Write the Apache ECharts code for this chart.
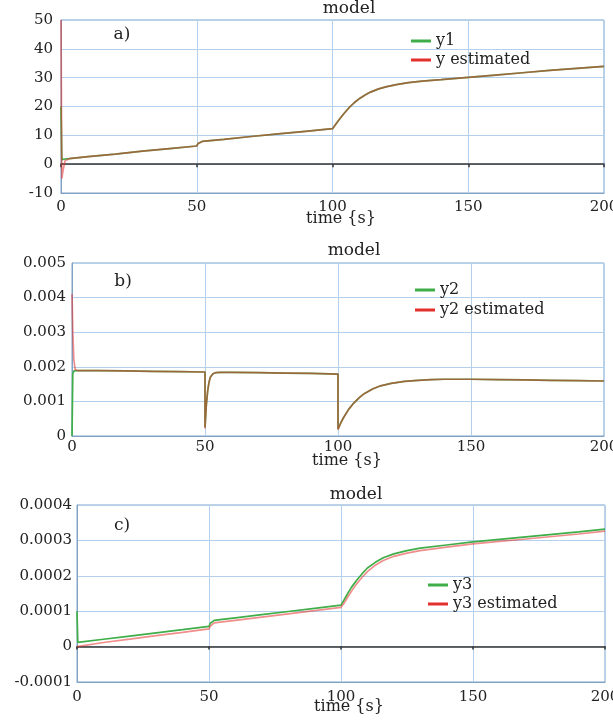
<!DOCTYPE html>
<html>
<head>
<meta charset="utf-8">
<script src="https://cdn.jsdelivr.net/npm/echarts@6/dist/echarts.min.js"></script>
<style>html,body{margin:0;padding:0;background:#fff}#c{width:613px;height:725px}</style>
</head>
<body>
<div id="c"></div>
<script>
// ---- Panel a) ----
var tA = [0, 0.3, 0.8, 1.5, 3, 10, 20, 30, 40, 50, 50.5, 51, 52, 54, 60, 70, 80, 90, 100, 101, 102, 103, 104, 106, 108, 110, 112, 114, 117, 120, 124, 128, 133, 140, 150, 160, 170, 180, 190, 200];
var y1 = [20, 1.6, 1.6, 1.8, 1.9, 2.6, 3.5, 4.5, 5.4, 6.3, 7.2, 7.6, 7.9, 8.1, 8.6, 9.6, 10.5, 11.4, 12.3, 13.6, 14.9, 16.1, 17.3, 19.5, 21.3, 22.8, 24.0, 25.0, 26.1, 26.9, 27.7, 28.3, 28.8, 29.3, 30.1, 30.9, 31.7, 32.5, 33.2, 33.9];
var y1Est = [50, -5, -2, 1.2, 1.9, 2.6, 3.5, 4.5, 5.4, 6.3, 7.2, 7.6, 7.9, 8.1, 8.6, 9.6, 10.5, 11.4, 12.3, 13.6, 14.9, 16.1, 17.3, 19.5, 21.3, 22.8, 24.0, 25.0, 26.1, 26.9, 27.7, 28.3, 28.8, 29.3, 30.1, 30.9, 31.7, 32.5, 33.2, 33.9];
// ---- Panel b) ----
var tB = [0, 0.3, 0.7, 1.2, 2, 10, 20, 30, 40, 50, 50, 50.5, 51, 51.5, 52, 53, 54, 56, 60, 70, 80, 90, 100, 100, 101, 102, 104, 106, 108, 110, 113, 116, 120, 125, 130, 135, 140, 150, 160, 170, 180, 190, 200];
var y2 = [0, 0.00180, 0.00188, 0.00189, 0.00189, 0.00189, 0.00188, 0.00187, 0.00186, 0.00185, 0.00025, 0.00090, 0.00130, 0.00155, 0.00170, 0.00180, 0.00183, 0.00184, 0.00184, 0.00183, 0.00182, 0.00181, 0.00179, 0.00020, 0.00037, 0.00052, 0.00077, 0.00096, 0.00111, 0.00123, 0.00136, 0.00145, 0.00152, 0.00158, 0.00161, 0.00163, 0.00164, 0.00164, 0.00163, 0.00162, 0.00161, 0.00160, 0.00159];
var y2Est = [0.00410, 0.00300, 0.00220, 0.00192, 0.00189, 0.00189, 0.00188, 0.00187, 0.00186, 0.00185, 0.00022, 0.00090, 0.00130, 0.00155, 0.00170, 0.00180, 0.00183, 0.00184, 0.00184, 0.00183, 0.00182, 0.00181, 0.00179, 0.00018, 0.00037, 0.00052, 0.00077, 0.00096, 0.00111, 0.00123, 0.00136, 0.00145, 0.00152, 0.00158, 0.00161, 0.00163, 0.00164, 0.00164, 0.00163, 0.00162, 0.00161, 0.00160, 0.00159];
// ---- Panel c) ----
var tC = [0, 0.3, 10, 20, 30, 40, 50, 50.5, 51, 52, 55, 60, 70, 80, 90, 100, 101, 102, 103, 104, 106, 108, 110, 113, 116, 120, 125, 130, 140, 150, 160, 170, 180, 190, 200];
var y3 = [0.000100, 0.000012, 0.0000207, 0.0000297, 0.0000387, 0.0000477, 0.000057, 0.000066, 0.000070, 0.000074, 0.0000767, 0.0000812, 0.0000902, 0.0000992, 0.0001082, 0.000117, 0.000130, 0.000143, 0.000156, 0.000168, 0.000188, 0.000206, 0.000222, 0.000238, 0.000251, 0.000262, 0.000271, 0.000278, 0.000287, 0.000296, 0.000303, 0.000310, 0.000317, 0.000324, 0.000332];
var y3Est = [0.000000, 0.000002, 0.0000116, 0.000021, 0.000031, 0.000040, 0.000050, 0.000058, 0.000062, 0.000067, 0.0000697, 0.0000743, 0.0000835, 0.0000927, 0.0001018, 0.000111, 0.000121, 0.000133, 0.000145, 0.000157, 0.000178, 0.000196, 0.000212, 0.000230, 0.000243, 0.000255, 0.000264, 0.000271, 0.000281, 0.000290, 0.000297, 0.000304, 0.000311, 0.000318, 0.000326];

var yTicks = [
  {min: -10, max: 50, interval: 10},
  {min: 0, max: 0.005, interval: 0.001},
  {min: -0.0001, max: 0.0004, interval: 0.0001}
];
var xTicks = {min: 0, max: 200, interval: 50};

function pairs(t, v) { return t.map(function (x, i) { return [x, v[i]]; }); }

var FONT = '"DejaVu Serif", serif';
var TXT = '#222';
var FRAME = '#7fa3c4';
var GRIDC = '#b3d1ec';
var GREEN = '#3fae49';
var RED = '#e2312d';
var REDA = 'rgba(226,49,45,0.55)';

var grids = [
  {left: 61, top: 20, width: 543, height: 173},
  {left: 72, top: 263, width: 532, height: 173},
  {left: 77, top: 505, width: 528, height: 177}
];
var labelMargins = [7, 4, 8];
var yMargins = [8, 6, 5];

var option = {
  animation: false,
  backgroundColor: '#fff',
  grid: grids.map(function (g) {
    return Object.assign({show: true, borderColor: FRAME, borderWidth: 1, backgroundColor: 'transparent', containLabel: false, outerBoundsMode: 'none'}, g);
  }),
  xAxis: [],
  yAxis: [],
  series: [],
  legend: [],
  graphic: []
};

for (var i = 0; i < 3; i++) {
  option.xAxis.push({
    type: 'value', gridIndex: i, min: xTicks.min, max: xTicks.max, interval: xTicks.interval,
    axisLine: {show: true, onZero: false, lineStyle: {color: FRAME, width: 1}},
    axisTick: {show: false},
    axisLabel: {color: TXT, fontFamily: FONT, fontSize: 15, margin: labelMargins[i]},
    splitLine: {show: true, lineStyle: {color: GRIDC, width: 1}}
  });
  option.yAxis.push({
    type: 'value', gridIndex: i, min: yTicks[i].min, max: yTicks[i].max, interval: yTicks[i].interval,
    axisLine: {show: true, onZero: false, lineStyle: {color: FRAME, width: 1}},
    axisTick: {show: false},
    axisLabel: {color: TXT, fontFamily: FONT, fontSize: 15, margin: yMargins[i]},
    splitLine: {show: true, lineStyle: {color: GRIDC, width: 1}}
  });
}
// zero lines (black, with ticks) for panels a and c
[0, 2].forEach(function (gi) {
  option.xAxis.push({
    type: 'value', gridIndex: gi, min: xTicks.min, max: xTicks.max, interval: xTicks.interval,
    position: 'bottom',
    axisLine: {show: true, onZero: true, lineStyle: {color: '#333', width: 1.5}},
    axisTick: {show: true, length: 3, lineStyle: {color: '#333', width: 1.5}},
    axisLabel: {show: false},
    splitLine: {show: false}
  });
});

var sets = [
  [tA, y1, y1Est, 'y1', 'y estimated'],
  [tB, y2, y2Est, 'y2', 'y2 estimated'],
  [tC, y3, y3Est, 'y3', 'y3 estimated']
];
sets.forEach(function (s, i) {
  option.series.push({
    name: s[3], type: 'line', xAxisIndex: i, yAxisIndex: i, data: pairs(s[0], s[1]),
    showSymbol: false, symbol: 'none', color: GREEN, lineStyle: {color: GREEN, width: 1.7}, z: 3
  });
  option.series.push({
    name: s[4], type: 'line', xAxisIndex: i, yAxisIndex: i, data: pairs(s[0], s[2]),
    showSymbol: false, symbol: 'none', color: RED, lineStyle: {color: REDA, width: 1.7}, z: 4
  });
});

var legendPos = [
  {left: 411, top: 33, gap: 3},
  {left: 415, top: 282, gap: 4},
  {left: 428, top: 577, gap: 3}
];
sets.forEach(function (s, i) {
  option.legend.push({
    orient: 'vertical', left: legendPos[i].left, top: legendPos[i].top, itemGap: legendPos[i].gap,
    itemWidth: 20, itemHeight: 3, icon: 'rect', padding: 0,
    data: [s[3], s[4]],
    textStyle: {color: TXT, fontFamily: FONT, fontSize: 16}
  });
});

function txt(x, y, s, size) {
  return {type: 'text', x: x, y: y, z: 100, style: {text: s, fill: TXT, font: size + 'px ' + FONT, textAlign: 'center', textVerticalAlign: 'middle'}};
}
option.graphic = [
  txt(349, 9, 'model', 17), txt(354, 251, 'model', 17), txt(356, 495, 'model', 17),
  txt(341, 219, 'time {s}', 16), txt(347, 461, 'time {s}', 16), txt(349, 707, 'time {s}', 16),
  txt(122, 35, 'a)', 17), txt(123, 282, 'b)', 17), txt(122, 526, 'c)', 17)
];

var chart = echarts.init(document.getElementById('c'), null, {renderer: 'canvas'});
chart.setOption(option);
</script>
</body>
</html>
